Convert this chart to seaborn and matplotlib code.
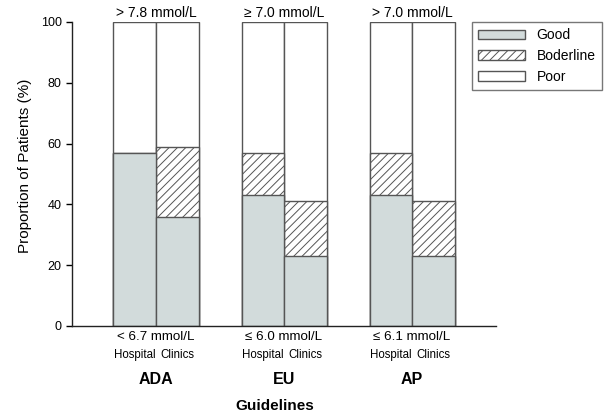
import matplotlib
matplotlib.use("Agg")
import matplotlib.pyplot as plt
import matplotlib.patches as mpatches
import seaborn as sns
import pandas as pd

# Data
guidelines = ["ADA", "EU", "AP"]
settings = ["Hospital", "Clinics"]
good = [57, 36, 43, 23, 43, 23]
borderline = [0, 23, 14, 18, 14, 18]
upper_thresholds = ["> 7.8 mmol/L", "\u2265 7.0 mmol/L", "> 7.0 mmol/L"]
lower_thresholds = ["< 6.7 mmol/L", "\u2264 6.0 mmol/L", "\u2264 6.1 mmol/L"]
yticks = [0, 20, 40, 60, 80, 100]

sns.set_style("ticks")
plt.rcParams["font.family"] = ["Liberation Sans", "DejaVu Sans"]
plt.rcParams["hatch.linewidth"] = 0.7
plt.rcParams["text.color"] = "black"
plt.rcParams["axes.labelcolor"] = "black"

BAR_W = 0.332
GOOD_COLOR = "#d2dbdb"
EDGE = "#555555"
HATCH = "////"

rows = []
for g_i, g in enumerate(guidelines):
    for s_i, s in enumerate(settings):
        k = g_i * 2 + s_i
        pos = g_i + (s_i - 0.5) * BAR_W
        rows.append({"pos": pos, "guideline": g, "setting": s,
                     "good": good[k], "border_top": good[k] + borderline[k],
                     "total": 100})
df = pd.DataFrame(rows)

fig = plt.figure(figsize=(6.05, 4.19), dpi=100)
ax = fig.add_axes([0.119, 0.222, 0.701, 0.7255])

common = dict(data=df, x="pos", native_scale=True, width=1.0, saturation=1,
              edgecolor=EDGE, linewidth=1.0, ax=ax, errorbar=None)
sns.barplot(y="total", color="white", **common)
sns.barplot(y="border_top", color="white", hatch=HATCH, **common)
sns.barplot(y="good", color=GOOD_COLOR, **common)

ax.set_xlim(-0.656, 2.656)
ax.set_ylim(0, 100)
ax.set_yticks(yticks)
ax.set_xticks([])
ax.set_xlabel("")
ax.set_ylabel("Proportion of Patients (%)", fontsize=11)
ax.yaxis.set_label_coords(-0.095, 0.527)
ax.tick_params(axis="y", labelsize=9, length=4, width=1, colors="black",
               direction="out")
for side in ("top", "right"):
    ax.spines[side].set_visible(False)
for side in ("left", "bottom"):
    ax.spines[side].set_color("#222222")
    ax.spines[side].set_linewidth(1.0)

tr = ax.get_xaxis_transform()
for g_i, g in enumerate(guidelines):
    ax.text(g_i, 1.007, upper_thresholds[g_i], transform=tr, ha="center",
            va="bottom", fontsize=10)
    ax.text(g_i, -0.016, lower_thresholds[g_i], transform=tr, ha="center",
            va="top", fontsize=9.6)
    for s_i, s in enumerate(settings):
        pos = g_i + (s_i - 0.5) * BAR_W
        ax.text(pos, -0.076, s, transform=tr, ha="center", va="top",
                fontsize=8.3)
    ax.text(g_i, -0.151, g, transform=tr, ha="center", va="top",
            fontsize=11.5, fontweight="bold")
ax.text(0.93, -0.24, "Guidelines", transform=tr, ha="center", va="top",
        fontsize=11, fontweight="bold")

handles = [
    mpatches.Patch(facecolor=GOOD_COLOR, edgecolor=EDGE, label="Good"),
    mpatches.Patch(facecolor="white", edgecolor=EDGE, hatch=HATCH,
                   label="Boderline"),
    mpatches.Patch(facecolor="white", edgecolor=EDGE, label="Poor"),
]
leg = fig.legend(handles=handles, loc="upper left",
                 bbox_to_anchor=(0.78, 0.948), borderaxespad=0, fontsize=10,
                 frameon=True, fancybox=False, handlelength=3.4,
                 handleheight=0.65, borderpad=0.45, labelspacing=0.5,
                 handletextpad=0.8)
leg.get_frame().set_edgecolor("#555555")
leg.get_frame().set_linewidth(1.0)

fig.savefig("out.png", dpi=100)
